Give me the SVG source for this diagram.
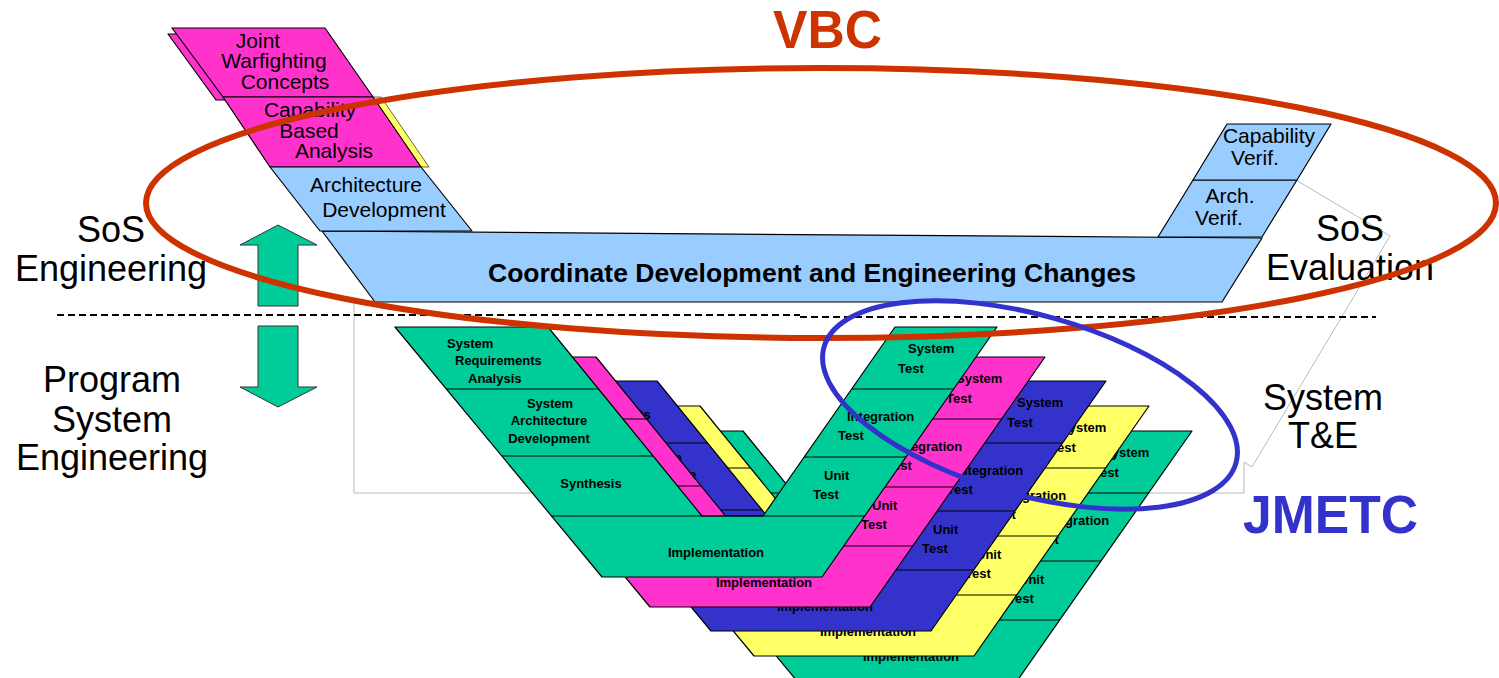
<svg xmlns="http://www.w3.org/2000/svg" width="1499" height="678" viewBox="0 0 1499 678">
<style>
.ln{fill:none;stroke:#000;stroke-width:1.2}
.sh{stroke:#000;stroke-width:1.2;stroke-linejoin:round}
.big{font-family:"Liberation Sans",Arial,sans-serif;font-size:36px;fill:#000;text-anchor:middle}
.up{font-family:"Liberation Sans",Arial,sans-serif;font-size:21px;fill:#000;text-anchor:middle}
.lb{font-family:"Liberation Sans",Arial,sans-serif;font-size:13px;font-weight:bold;fill:#000}
.mid{text-anchor:middle}
.grn{fill:#00CC99}.mag{fill:#FF33CC}.blu{fill:#3333CC}.yel{fill:#FFFF66}.lbl{fill:#99CCFF}
</style>

<!-- background outline -->
<g id="outline" fill="none" stroke="#bbbbbb" stroke-width="1">
<polyline points="1296,180 1390,236 1252,467 1244,462 1244,493 354,493 354,303"/>
</g>

<!-- upper SoS V -->
<g id="jwc">
<polygon class="sh mag" points="168,34 321,34 369,100 216,100"/>
<polygon class="sh mag" points="172,28 325,28 373,97 223,97"/>
<text class="up" x="258" y="48" font-size="20">Joint</text>
<text class="up" x="274" y="68" font-size="20">Warfighting</text>
<text class="up" x="285" y="89" font-size="20">Concepts</text>
</g>
<g id="cba">
<polygon class="yel" stroke="#000" stroke-width="0.6" points="373,97 381,97 429,167 421,167"/>
<polygon class="sh mag" points="223,97 373,97 421,167 270,167"/>
<text class="up" x="310" y="117">Capability</text>
<text class="up" x="309" y="138">Based</text>
<text class="up" x="334" y="158">Analysis</text>
</g>
<g id="coord">
<polygon class="sh lbl" points="322,231 1262,238 1222,302 375,302"/>
<text x="812" y="282" font-family="Liberation Sans,Arial,sans-serif" font-size="26" font-weight="bold" text-anchor="middle" textLength="648" lengthAdjust="spacingAndGlyphs">Coordinate Development and Engineering Changes</text>
</g>
<g id="archdev">
<polygon class="sh lbl" points="270,167 421,167 472,231 320,231"/>
<text class="up" x="366" y="192">Architecture</text>
<text class="up" x="384" y="217">Development</text>
</g>
<g id="archverif">
<polygon class="sh lbl" points="1158,237 1262,237 1297,180 1193,180"/>
<text class="up" x="1230" y="203">Arch.</text>
<text class="up" x="1219" y="225">Verif.</text>
</g>
<g id="capverif">
<polygon class="sh lbl" points="1193,180 1297,180 1331,124 1227,124"/>
<text class="up" x="1269" y="143">Capability</text>
<text class="up" x="1255" y="165">Verif.</text>
</g>

<!-- dashed divider -->
<g id="divider">
<line x1="57" y1="315" x2="800" y2="315" stroke="#000" stroke-width="2" stroke-dasharray="7 4"/>
<line x1="800" y1="317" x2="1376" y2="317" stroke="#000" stroke-width="2" stroke-dasharray="7 4"/>
</g>

<!-- lower V stack, back to front -->
<g id="layer5" transform="translate(195,104)">
<polygon class="sh grn" points="395,327 548,327 702,516 763,516 895,327 997,327 822,577 602,577"/>
<path class="ln" d="M446,389H598M502,456H653M551.5,516H865M852,389H954M804,457H906"/>
<text class="lb mid" x="716" y="557">Implementation</text>
<text class="lb" x="908" y="353">System</text><text class="lb" x="898" y="373">Test</text>
<text class="lb" x="847" y="421">Integration</text><text class="lb" x="838" y="440">Test</text>
<text class="lb" x="824" y="480">Unit</text><text class="lb" x="813" y="499">Test</text>
</g>
<g id="layer4" transform="translate(152,79)">
<polygon class="sh yel" points="395,327 548,327 702,516 763,516 895,327 997,327 822,577 602,577"/>
<path class="ln" d="M446,389H598M502,456H653M551.5,516H865M852,389H954M804,457H906"/>
<text class="lb mid" x="716" y="557">Implementation</text>
<text class="lb" x="908" y="353">System</text><text class="lb" x="898" y="373">Test</text>
<text class="lb" x="847" y="421">Integration</text><text class="lb" x="838" y="440">Test</text>
<text class="lb" x="824" y="480">Unit</text><text class="lb" x="813" y="499">Test</text>
</g>
<g id="layer3" transform="translate(109,54)">
<polygon class="sh blu" points="395,327 548,327 702,516 763,516 895,327 997,327 822,577 602,577"/>
<path class="ln" d="M446,389H598M502,456H653M551.5,516H865M852,389H954M804,457H906"/>
<text class="lb" x="455" y="365">Requirements</text>
<text class="lb mid" x="550" y="408">System</text><text class="lb mid" x="549" y="425">Architecture</text>
<text class="lb mid" x="716" y="557">Implementation</text>
<text class="lb" x="908" y="353">System</text><text class="lb" x="898" y="373">Test</text>
<text class="lb" x="847" y="421">Integration</text><text class="lb" x="838" y="440">Test</text>
<text class="lb" x="824" y="480">Unit</text><text class="lb" x="813" y="499">Test</text>
</g>
<g id="layer2" transform="translate(48,30)">
<polygon class="sh mag" points="395,327 548,327 702,516 763,516 895,327 997,327 822,577 602,577"/>
<path class="ln" d="M446,389H598M502,456H653M551.5,516H865M852,389H954M804,457H906"/>
<text class="lb mid" x="716" y="557">Implementation</text>
<text class="lb" x="908" y="353">System</text><text class="lb" x="898" y="373">Test</text>
<text class="lb" x="847" y="421">Integration</text><text class="lb" x="838" y="440">Test</text>
<text class="lb" x="824" y="480">Unit</text><text class="lb" x="813" y="499">Test</text>
</g>
<g id="layer1">
<polygon class="sh grn" points="395,327 548,327 702,516 763,516 895,327 997,327 822,577 602,577"/>
<path class="ln" d="M446,389H598M502,456H653M551.5,516H865M852,389H954M804,457H906"/>
<text class="lb" x="447" y="348">System</text><text class="lb" x="455" y="365">Requirements</text><text class="lb" x="468" y="383">Analysis</text>
<text class="lb mid" x="550" y="408">System</text><text class="lb mid" x="549" y="425">Architecture</text><text class="lb mid" x="549" y="443">Development</text>
<text class="lb mid" x="591" y="488">Synthesis</text><text class="lb mid" x="716" y="557">Implementation</text>
<text class="lb" x="908" y="353">System</text><text class="lb" x="898" y="373">Test</text>
<text class="lb" x="847" y="421">Integration</text><text class="lb" x="838" y="440">Test</text>
<text class="lb" x="824" y="480">Unit</text><text class="lb" x="813" y="499">Test</text>
</g>

<!-- arrows -->
<g id="connectors" fill="#00CC99" stroke="#333" stroke-width="1">
<polygon points="278,225 317,245 298,245 298,306 258,306 258,245 240,245"/>
<polygon points="258,326 298,326 298,387 317,387 278,407 240,387 258,387"/>
</g>

<!-- side labels -->
<g id="sos-eng">
<text class="big" x="111" y="242">SoS</text>
<text class="big" x="111" y="281">Engineering</text>
</g>
<g id="prog-eng">
<text class="big" x="112" y="392">Program</text>
<text class="big" x="112" y="432">System</text>
<text class="big" x="112" y="470">Engineering</text>
</g>
<g id="sos-eval">
<text class="big" x="1350" y="241">SoS</text>
<text class="big" x="1350" y="280">Evaluation</text>
</g>
<g id="sys-te">
<text class="big" x="1323" y="410">System</text>
<text class="big" x="1323" y="448">T&amp;E</text>
</g>

<!-- ellipses -->
<g id="vbc">
<ellipse cx="821" cy="203" rx="675" ry="135" fill="none" stroke="#CC3300" stroke-width="6"/>
<text x="827.5" y="48" font-family="Liberation Sans,Arial,sans-serif" font-size="54" font-weight="bold" fill="#CC3300" text-anchor="middle" textLength="109" lengthAdjust="spacingAndGlyphs">VBC</text>
</g>
<g id="jmetc">
<ellipse cx="1030" cy="405" rx="214" ry="90" transform="rotate(15.7 1030 405)" fill="none" stroke="#3333CC" stroke-width="5"/>
<text x="1330.5" y="533" font-family="Liberation Sans,Arial,sans-serif" font-size="53" font-weight="bold" fill="#3333CC" text-anchor="middle" textLength="175" lengthAdjust="spacingAndGlyphs">JMETC</text>
</g>
</svg>
